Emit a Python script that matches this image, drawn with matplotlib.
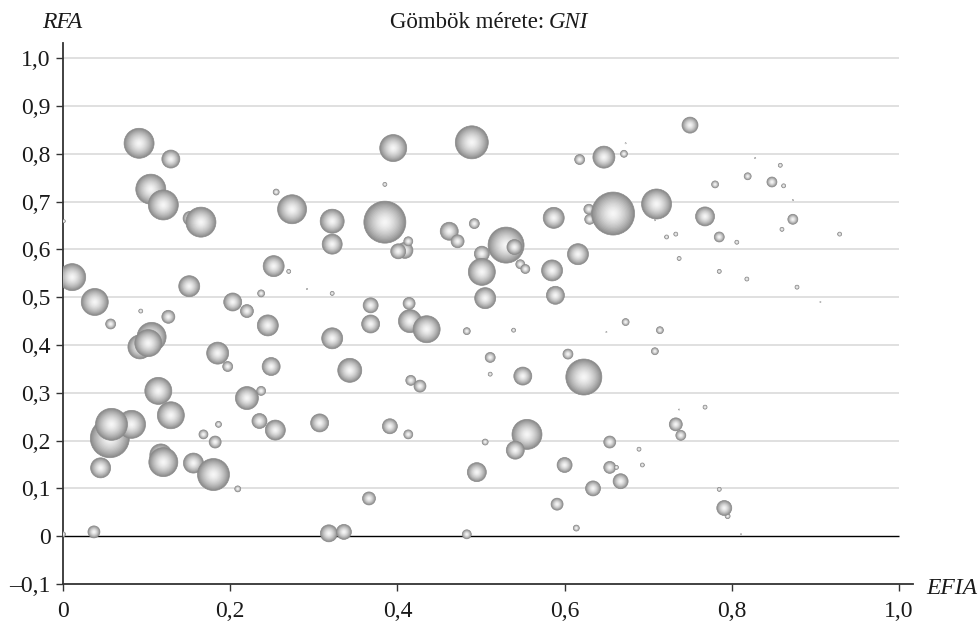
import numpy as np
import matplotlib
matplotlib.use("Agg")
import matplotlib.pyplot as plt

plt.rcParams['font.family'] = ['Liberation Serif', 'DejaVu Serif']

# EFIA (x), RFA (y), GNI (relative size of the spheres)
efia = [0.001, 0.091, 0.129, 0.105, 0.120, 0.152, 0.165, 0.255, 0.274, 0.011,
        0.038, 0.057, 0.093, 0.126, 0.151, 0.092, 0.106, 0.102, 0.185, 0.197,
        0.203, 0.220, 0.237, 0.252, 0.270, 0.292, 0.245, 0.249, 0.237, 0.220,
        0.114, 0.129, 0.056, 0.082, 0.058, 0.045, 0.117, 0.120, 0.156, 0.180,
        0.168, 0.182, 0.186, 0.209, 0.235, 0.254, 0.307, 0.000, 0.037, 0.318,
        0.336, 0.395, 0.489, 0.385, 0.618, 0.647, 0.671, 0.673, 0.322, 0.322,
        0.385, 0.409, 0.413, 0.401, 0.462, 0.472, 0.492, 0.530, 0.540, 0.501,
        0.501, 0.505, 0.547, 0.553, 0.587, 0.585, 0.589, 0.616, 0.629, 0.630,
        0.658, 0.710, 0.322, 0.368, 0.368, 0.414, 0.415, 0.435, 0.322, 0.483,
        0.539, 0.650, 0.673, 0.343, 0.416, 0.427, 0.511, 0.511, 0.550, 0.604,
        0.623, 0.391, 0.413, 0.366, 0.483, 0.505, 0.495, 0.555, 0.541, 0.600,
        0.591, 0.614, 0.634, 0.654, 0.654, 0.662, 0.667, 0.689, 0.693, 0.750,
        0.828, 0.858, 0.819, 0.848, 0.862, 0.780, 0.873, 0.768, 0.873, 0.860,
        0.929, 0.785, 0.806, 0.722, 0.733, 0.708, 0.737, 0.785, 0.818, 0.878,
        0.906, 0.714, 0.708, 0.768, 0.737, 0.733, 0.739, 0.785, 0.795, 0.791,
        0.811]
rfa = [0.659, 0.822, 0.789, 0.726, 0.693, 0.665, 0.657, 0.720, 0.684, 0.542,
       0.490, 0.444, 0.471, 0.459, 0.523, 0.396, 0.417, 0.404, 0.383, 0.355,
       0.490, 0.471, 0.508, 0.565, 0.554, 0.517, 0.441, 0.355, 0.304, 0.289,
       0.304, 0.253, 0.205, 0.234, 0.234, 0.143, 0.170, 0.155, 0.153, 0.129,
       0.213, 0.197, 0.234, 0.099, 0.241, 0.222, 0.237, 0.004, 0.009, 0.006,
       0.009, 0.812, 0.824, 0.736, 0.788, 0.793, 0.800, 0.822, 0.659, 0.611,
       0.657, 0.598, 0.617, 0.596, 0.638, 0.617, 0.654, 0.609, 0.605, 0.591,
       0.553, 0.498, 0.569, 0.559, 0.666, 0.556, 0.504, 0.590, 0.684, 0.663,
       0.675, 0.695, 0.508, 0.483, 0.444, 0.487, 0.450, 0.433, 0.414, 0.429,
       0.431, 0.427, 0.448, 0.347, 0.326, 0.314, 0.374, 0.339, 0.335, 0.381,
       0.333, 0.230, 0.213, 0.079, 0.004, 0.197, 0.134, 0.213, 0.180, 0.149,
       0.067, 0.017, 0.100, 0.197, 0.144, 0.144, 0.115, 0.182, 0.149, 0.860,
       0.791, 0.776, 0.753, 0.741, 0.733, 0.736, 0.703, 0.669, 0.663, 0.642,
       0.632, 0.626, 0.615, 0.626, 0.632, 0.661, 0.581, 0.554, 0.538, 0.521,
       0.490, 0.431, 0.387, 0.270, 0.265, 0.234, 0.211, 0.098, 0.042, 0.059,
       0.004]
gni = [9, 900, 324, 900, 900, 196, 900, 36, 841, 729,
       729, 100, 16, 169, 441, 576, 841, 729, 484, 100,
       324, 169, 49, 441, 16, 1, 441, 324, 81, 529,
       729, 729, 1521, 784, 1024, 400, 484, 841, 400, 1024,
       81, 144, 36, 36, 225, 400, 324, 25, 144, 289,
       225, 729, 1089, 16, 100, 484, 49, 1, 576, 400,
       1764, 256, 81, 225, 324, 169, 100, 1296, 225, 225,
       729, 441, 81, 81, 441, 441, 324, 441, 100, 100,
       1849, 900, 16, 225, 324, 144, 529, 729, 441, 49,
       16, 1, 49, 576, 100, 144, 100, 16, 324, 100,
       1296, 225, 81, 169, 81, 36, 361, 900, 324, 225,
       144, 36, 225, 144, 144, 16, 225, 16, 16, 256,
       1, 16, 49, 100, 16, 49, 1, 361, 100, 16,
       16, 100, 16, 16, 16, 1, 16, 16, 16, 16,
       1, 49, 49, 16, 1, 169, 100, 16, 25, 225,
       1]

yticks = [-0.1, 0, 0.1, 0.2, 0.3, 0.4, 0.5, 0.6, 0.7, 0.8, 0.9, 1.0]
ylabels = ['\u20130,1', '0', '0,1', '0,2', '0,3', '0,4', '0,5', '0,6', '0,7', '0,8', '0,9', '1,0']
xticks = [0, 0.2, 0.4, 0.6, 0.8, 1.0]
xlabels = ['0', '0,2', '0,4', '0,6', '0,8', '1,0']

fig = plt.figure(figsize=(9.79, 6.22), dpi=100)
ax = fig.add_axes([63 / 979, 38 / 622, 850 / 979, 541 / 622])

# shaded spheres: concentric discs from dark rim to light centre
n_layers = 16
xs, ys, ss, cs, lws = [], [], [], [], []
for x, y, g in zip(efia, rfa, gni):
    s = g * 0.5184
    for k in range(n_layers):
        f = 1 - k / n_layers
        v = 0.97 - 0.42 * f ** 1.6
        xs.append(x)
        ys.append(y)
        ss.append(s * f * f)
        cs.append((v, v, v))
        lws.append(0.5 if k == 0 else 0)
ax.scatter(xs, ys, s=ss, c=cs, linewidths=lws, edgecolors='#8a8a8a', zorder=3)

ax.hlines([t for t in yticks if t > 0], 0, 1, colors='#dddddd', linewidth=1.3, zorder=1)
ax.hlines(0, 0, 1, colors='black', linewidth=1.0, zorder=2)

ax.set_xticks(xticks)
ax.set_xticklabels(xlabels)
ax.set_yticks(yticks)
ax.set_yticklabels(ylabels)
ax.set_xlim(0, 850 / 836)
ax.set_ylim(-0.1, -0.1 + 541 / 478)
for side in ['top', 'right']:
    ax.spines[side].set_visible(False)
for side in ['left', 'bottom']:
    ax.spines[side].set_color('#333333')
    ax.spines[side].set_linewidth(1.3)
ax.tick_params(direction='out', length=5, width=1, color='#333333',
               labelsize=17, labelcolor='#1a1a1a')
ax.tick_params(axis='x', pad=7)
ax.tick_params(axis='y', pad=4)

fig.text(62 / 979, 1 - 23 / 622, 'RFA', style='italic', fontsize=17,
         ha='center', va='center', color='#1a1a1a')
fig.text(544 / 979, 1 - 22 / 622, 'Gömbök mérete:', fontsize=16.5,
         ha='right', va='center', color='#1a1a1a')
fig.text(549 / 979, 1 - 22 / 622, 'GNI', style='italic', fontsize=16.5,
         ha='left', va='center', color='#1a1a1a')
fig.text(926 / 979, 1 - 588 / 622, 'EFIA', style='italic', fontsize=17,
         ha='left', va='center', color='#1a1a1a')

fig.savefig('out.png', dpi=100)
